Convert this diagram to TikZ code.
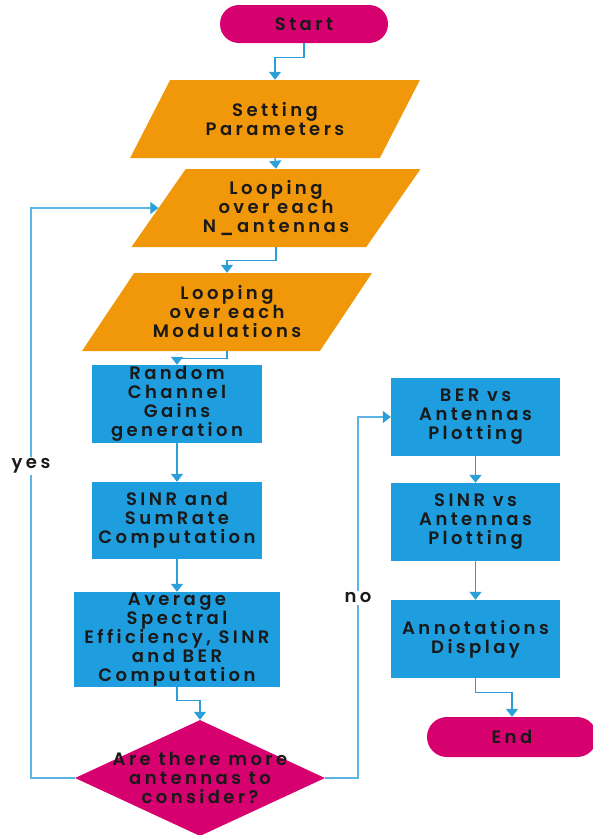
\documentclass[tikz,border=0pt]{standalone}
\usepackage{fontspec}
\setmainfont{Poppins}[UprightFont={Poppins SemiBold}, LetterSpace=19]
\usetikzlibrary{arrows.meta,shapes.geometric,shapes.misc,calc}
\definecolor{termc}{HTML}{D6006E}
\definecolor{ioc}{HTML}{F0970A}
\definecolor{procc}{HTML}{1E9EDF}
\definecolor{linec}{HTML}{2A9FDA}
\definecolor{loopc}{HTML}{5BB4E4}
\begin{document}
\begin{tikzpicture}[x=1pt,y=-1pt,
  every node/.style={font=\fontsize{18}{19}\selectfont, text=black!90, align=center, inner sep=0pt},
  term/.style={rounded rectangle, fill=termc, minimum width=168pt, minimum height=38pt},
  iobox/.style={trapezium, trapezium left angle=51.5, trapezium right angle=128.5,
    trapezium stretches=true, fill=ioc, minimum width=290pt, minimum height=78pt},
  proc/.style={rectangle, fill=procc, minimum width=170pt, minimum height=78pt},
  decide/.style={diamond, fill=termc, minimum width=250pt, minimum height=116pt, aspect=2.15},
  flow/.style={draw=linec, line width=1.3pt, -{Triangle[width=12pt,length=8pt]}},
  back/.style={draw=loopc, line width=1.1pt, -{Triangle[width=12pt,length=8pt,color=linec]}},
  tag/.style={fill=white, inner sep=2pt}]
\useasboundingbox (0,0) rectangle (592,835);

% terminals
\node[term] (start) at (304,24) {Start};
\node[term, minimum width=170pt, minimum height=40pt] (stop) at (512,737) {End};

% input / loop blocks
\node[iobox] (setp) at (275,119) {Setting\\Parameters};
\node[iobox] (nant) at (276,208) {Looping\\over each\\N\_antennas};
\node[iobox] (nmod) at (227,312) {Looping\\over each\\Modulations};

% processing blocks
\node[proc] (rand) at (177,404) {Random\\Channel\\Gains\\generation};
\node[proc, minimum height=77pt] (sinr) at (177,520.5) {SINR and\\SumRate\\Computation};
\node[proc, minimum width=206pt, minimum height=95pt] (avg) at (177,639.5) {Average\\Spectral\\Efficiency, SINR\\and BER\\Computation};

% decision: fixed-size diamond, question set on top of it
\node[decide] (dec) at (200,778) {};
\node (dectext) at (dec.center) {Are there more\\antennas to\\consider?};

% plotting blocks
\node[proc, minimum width=169pt] (ber) at (475.5,417) {BER vs\\Antennas\\Plotting};
\node[proc, minimum width=169pt] (sinrv) at (475.5,522) {SINR vs\\Antennas\\Plotting};
\node[proc, minimum width=169pt] (ann) at (475.5,639) {Annotations\\Display};

% main flow
\draw[flow] (start.south) -- ++(0,14) -| (setp.north);
\draw[flow] (setp.south) -- (nant.north);
\draw[flow] (nant.south) -- ++(0,13) -| (nmod.north);
\draw[flow] (nmod.south) -- ++(0,7) -| (rand.north);
\draw[flow] (rand) -- (sinr);
\draw[flow] (sinr) -- (avg);
\draw[flow] (avg.south) -- ++(0,13) -| (dec.north);

% loop back
\coordinate (nantin) at ($(nant.bottom left corner)!0.5!(nant.top left corner)$);
\draw[back] (dec.west) -- (31,778) |- (nantin);
\node[tag] at (31,466) {yes};

% exit
\draw[back] (dec.east) -- (358,778) |- (ber.west);
\node[tag] at (358,598) {no};

\draw[flow] (ber) -- (sinrv);
\draw[flow] (sinrv) -- (ann);
\draw[flow] (ann.south) -- ++(0,14) -| (stop.north);
\end{tikzpicture}
\end{document}
